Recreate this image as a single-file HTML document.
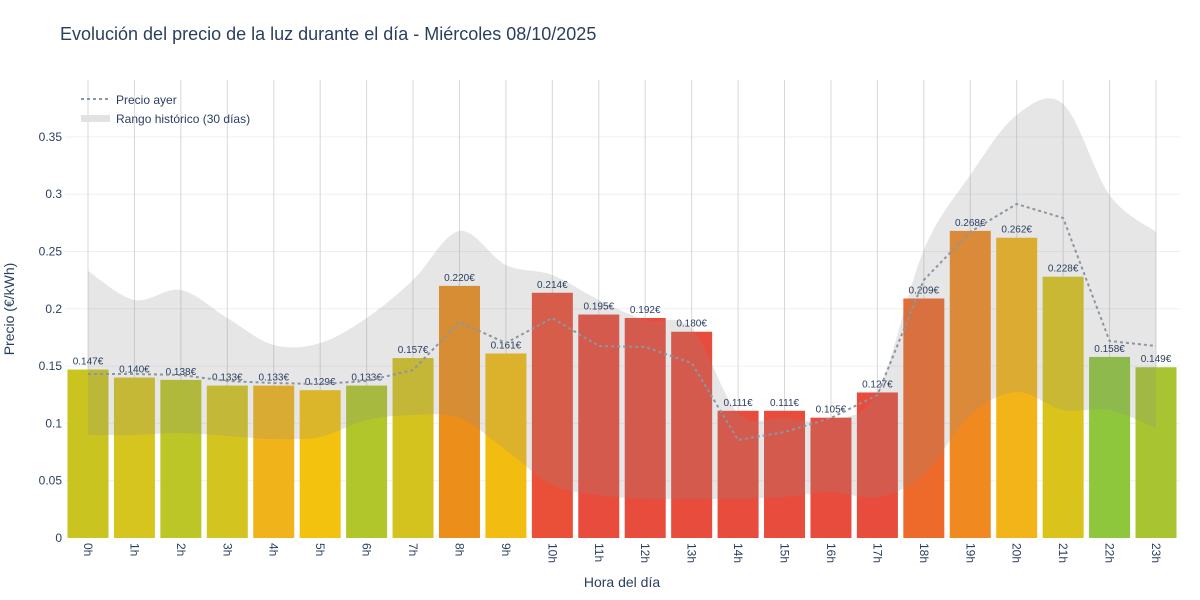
<!DOCTYPE html><html><head><meta charset="utf-8"><style>body{margin:0;background:#fff}svg{display:block;font-family:"Liberation Sans","DejaVu Sans",sans-serif}</style></head><body>
<svg width="1200" height="600" xmlns="http://www.w3.org/2000/svg" id="s">
<text x="60" y="40" font-size="18" fill="#2a3f5f">Evolución del precio de la luz durante el día - Miércoles 08/10/2025</text>
<g id="g"></g>
</svg>
<script>
const NS="http://www.w3.org/2000/svg",g=document.getElementById('g');
function el(t,a,txt){const e=document.createElementNS(NS,t);for(const k in a)e.setAttribute(k,a[k]);if(txt!=null)e.textContent=txt;g.appendChild(e);return e}
const X=i=>88+i*46.435, Y=v=>538-v*1146;
[0.05,0.1,0.15,0.2,0.25,0.3,0.35].forEach(v=>el('line',{x1:65,x2:1180,y1:Y(v),y2:Y(v),stroke:'#ebf0f8'}));
const yl=['0','0.05','0.1','0.15','0.2','0.25','0.3','0.35'];
yl.forEach((t,i)=>el('text',{x:62,y:Y(i*0.05)+4,'font-size':12,fill:'#2a3f5f','text-anchor':'end'},t));
for(let i=0;i<24;i++)el('line',{x1:X(i),x2:X(i),y1:80,y2:538,stroke:'#d8d8d8'});
const vals=[.147,.140,.138,.133,.133,.129,.133,.157,.220,.161,.214,.195,.192,.180,.111,.111,.105,.127,.209,.268,.262,.228,.158,.149];
const cols=['#c9c41f','#d6c41f','#bcc626','#d4c420','#f0b41a','#f2c20f','#b0c62a','#d4c21e','#ec8e1a','#f2bc10','#ea5038','#e84c3c','#e84c3c','#e84c3c','#e84c3c','#e84c3c','#e84c3c','#e84c3c','#ee6a2a','#f08a20','#f2b418','#dac41c','#8ec63c','#a8c430'];
vals.forEach((v,i)=>el('rect',{x:X(i)-20.5,y:Y(v),width:41,height:538-Y(v),fill:cols[i]}));
const up=[271,300,290,318,345,343,318,280,231,265,275,300,320,328,413,418,420,392,250,175,115,104,195,232];
const lo=[435,435,433,436,439,437,420,415,418,450,485,495,499,499,499,497,492,497,475,415,392,410,410,428];
function cr(pts){let d='';for(let i=0;i<pts.length-1;i++){const p0=pts[i-1]||pts[i],p1=pts[i],p2=pts[i+1],p3=pts[i+2]||p2;
if(i==0)d+='L'+p1[0]+','+p1[1];d+=`C${p1[0]+(p2[0]-p0[0])/6},${p1[1]+(p2[1]-p0[1])/6} ${p2[0]-(p3[0]-p1[0])/6},${p2[1]-(p3[1]-p1[1])/6} ${p2[0]},${p2[1]}`}return d}
const U=up.map((y,i)=>[X(i),y]),L=lo.map((y,i)=>[X(i),y]).reverse();
el('path',{d:'M'+cr(U).slice(1)+cr(L)+'Z',fill:'rgba(140,140,140,0.22)'});
vals.forEach((v,i)=>el('text',{x:X(i),y:Y(v)-5,'font-size':10,fill:'#2a3f5f','text-anchor':'middle'},v.toFixed(3)+'€'));
const ay=[374,374,375,381,383,384,381,370,322,343,318,346,347,363,440,432,418,395,280,232,204,218,341,346];
el('polyline',{points:ay.map((y,i)=>X(i)+','+y).join(' '),fill:'none',stroke:'#8a96a3','stroke-width':2,'stroke-dasharray':'3,3'});
for(let i=0;i<24;i++){el('text',{transform:`translate(${X(i)-4},543) rotate(90)`,'font-size':12,fill:'#2a3f5f'},i+'h')}
el('text',{x:622,y:587,'font-size':14,fill:'#2a3f5f','text-anchor':'middle'},'Hora del día');
el('text',{transform:'translate(14,309) rotate(-90)','font-size':14,fill:'#2a3f5f','text-anchor':'middle'},'Precio (€/kWh)');
el('line',{x1:81,x2:110,y1:99,y2:99,stroke:'#8a96a3','stroke-width':2,'stroke-dasharray':'3,3'});
el('text',{x:116,y:104,'font-size':12,fill:'#2a3f5f'},'Precio ayer');
el('rect',{x:81,y:115,width:29,height:7,fill:'#e2e2e2'});
el('text',{x:116,y:123,'font-size':12,fill:'#2a3f5f'},'Rango histórico (30 días)');
</script></body></html>
